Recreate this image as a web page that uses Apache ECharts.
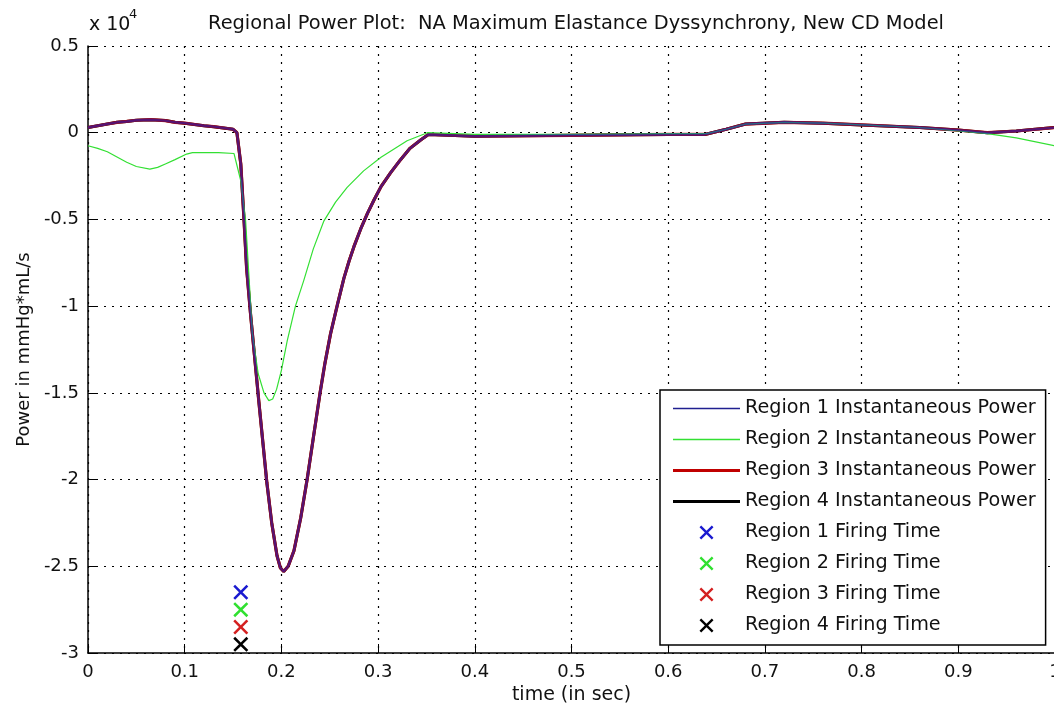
<!DOCTYPE html>
<html>
<head>
<meta charset="utf-8">
<script src="https://cdn.jsdelivr.net/npm/echarts@6/dist/echarts.min.js"></script>
<style>html,body{margin:0;padding:0;background:#fff}#c{width:1054px;height:714px}</style>
</head>
<body>
<div id="c"></div>
<script>
// Values in units of 10^4 mmHg*mL/s
const mainTime = [0, 0.01, 0.02, 0.03, 0.04, 0.05, 0.065, 0.08, 0.09, 0.1, 0.12, 0.13, 0.15, 0.154, 0.158, 0.161, 0.164, 0.168, 0.1765, 0.185, 0.19, 0.1955, 0.199, 0.2024, 0.207, 0.213, 0.22, 0.2266, 0.233, 0.240, 0.245, 0.2508, 0.258, 0.2646, 0.27, 0.275, 0.282, 0.289, 0.296, 0.303, 0.313, 0.323, 0.333, 0.344, 0.352, 0.4, 0.5, 0.6, 0.638, 0.66, 0.68, 0.72, 0.76, 0.8, 0.86, 0.9, 0.93, 0.96, 1.0];
const region1Power = [0.03, 0.04, 0.05, 0.06, 0.065, 0.072, 0.075, 0.07, 0.06, 0.055, 0.04, 0.035, 0.02, 0.0, -0.18, -0.47, -0.78, -1.04, -1.54, -2.02, -2.25, -2.44, -2.51, -2.53, -2.5, -2.41, -2.22, -2.0, -1.76, -1.50, -1.33, -1.16, -0.99, -0.84, -0.74, -0.657, -0.555, -0.465, -0.385, -0.311, -0.23, -0.157, -0.09, -0.042, -0.01, -0.02, -0.015, -0.01, -0.01, 0.02, 0.05, 0.06, 0.055, 0.045, 0.03, 0.015, 0.0, 0.01, 0.03];
const region3Power = region1Power.slice();
const region4Power = region1Power.slice();

const region2Time = [0, 0.01, 0.02, 0.03, 0.04, 0.05, 0.064, 0.072, 0.08, 0.09, 0.102, 0.108, 0.116, 0.135, 0.151, 0.158, 0.163, 0.170, 0.176, 0.182, 0.187, 0.191, 0.195, 0.2, 0.206, 0.2145, 0.223, 0.233, 0.244, 0.256, 0.268, 0.285, 0.303, 0.330, 0.351, 0.4, 0.5, 0.6, 0.64, 0.66, 0.68, 0.72, 0.76, 0.8, 0.86, 0.9, 0.93, 0.96, 1.0];
const region2Power = [-0.075, -0.09, -0.11, -0.14, -0.17, -0.195, -0.21, -0.2, -0.18, -0.155, -0.123, -0.115, -0.114, -0.115, -0.12, -0.277, -0.508, -1.16, -1.39, -1.5, -1.545, -1.535, -1.48, -1.37, -1.2, -1.0, -0.854, -0.67, -0.508, -0.4, -0.315, -0.22, -0.142, -0.046, 0, -0.01, -0.01, -0.005, -0.005, 0.02, 0.05, 0.06, 0.055, 0.045, 0.03, 0.01, -0.005, -0.03, -0.075];

const firingTimes = [0.158, 0.158, 0.158, 0.158];
const firingMarks = [-2.65, -2.75, -2.85, -2.95];

const xTicks = {min: 0, max: 1, interval: 0.1};
const yTicks = {min: -3, max: 0.5, interval: 0.5};

const seriesNames = ['Region 1 Instantaneous Power', 'Region 2 Instantaneous Power', 'Region 3 Instantaneous Power', 'Region 4 Instantaneous Power', 'Region 1 Firing Time', 'Region 2 Firing Time', 'Region 3 Firing Time', 'Region 4 Firing Time'];

const zip = (xs, ys) => xs.map((x, i) => [x, ys[i]]);
const X_PATH = 'path://M0,1.2L1.2,0L5,3.8L8.8,0L10,1.2L6.2,5L10,8.8L8.8,10L5,6.2L1.2,10L0,8.8L3.8,5Z';
const THIN_LINE = 'path://M0,0L67,0L67,1.3L0,1.3Z';
const THICK_LINE = 'path://M0,0L67,0L67,3L0,3Z';
const FONT = '"DejaVu Sans", "Liberation Sans", sans-serif';
const TXT = '#111';

const lineBase = {type: 'line', symbol: 'none', showSymbol: false, smooth: false, clip: true};

const chart = echarts.init(document.getElementById('c'), null, {renderer: 'canvas'});
chart.setOption({
  backgroundColor: '#fff',
  animation: false,
  textStyle: {fontFamily: FONT},
  title: {
    text: 'Regional Power Plot:  NA Maximum Elastance Dyssynchrony, New CD Model',
    left: 571, textAlign: 'center', top: 9,
    textStyle: {fontFamily: FONT, fontSize: 19.4, fontWeight: 'normal', color: TXT}
  },
  graphic: [
    {type: 'text', left: 89, top: 16, style: {text: 'x 10', font: '19px ' + FONT, fill: TXT}},
    {type: 'text', left: 129, top: 8, style: {text: '4', font: '13px ' + FONT, fill: TXT}}
  ],
  grid: {left: 88, right: -1, top: 46, bottom: 61, containLabel: false, outerBoundsMode: 'none'},
  xAxis: {
    type: 'value', min: xTicks.min, max: xTicks.max, interval: xTicks.interval,
    name: 'time (in sec)', nameLocation: 'middle', nameGap: 30,
    nameTextStyle: {fontFamily: FONT, fontSize: 19, color: TXT},
    axisLine: {show: true, onZero: false, lineStyle: {color: '#000', width: 1.5}},
    axisTick: {show: true, inside: true, length: 9, lineStyle: {color: '#000', width: 1}},
    axisLabel: {fontFamily: FONT, fontSize: 18, color: TXT, margin: 10, showMaxLabel: true},
    splitLine: {show: true, lineStyle: {color: '#000', width: 1.2, type: [2, 6]}}
  },
  yAxis: {
    type: 'value', min: yTicks.min, max: yTicks.max, interval: yTicks.interval,
    name: 'Power in mmHg*mL/s', nameLocation: 'middle', nameGap: 54, nameRotate: 90,
    nameTextStyle: {fontFamily: FONT, fontSize: 18, color: TXT},
    axisLine: {show: true, onZero: false, lineStyle: {color: '#000', width: 1.5}},
    axisTick: {show: true, inside: true, length: 9, lineStyle: {color: '#000', width: 1}},
    axisLabel: {fontFamily: FONT, fontSize: 18, color: TXT, margin: 9},
    splitLine: {show: true, lineStyle: {color: '#000', width: 1.2, type: [2, 6]}}
  },
  legend: {
    orient: 'vertical', left: 660, top: 390,
    padding: [9, 10, 10, 13],
    itemWidth: 67, itemHeight: 14, itemGap: 12,
    symbolKeepAspect: true,
    backgroundColor: '#fff', borderColor: '#000', borderWidth: 1.5, borderRadius: 0,
    textStyle: {fontFamily: FONT, fontSize: 19.2, lineHeight: 19, color: TXT},
    data: [
      {name: seriesNames[0], icon: THIN_LINE},
      {name: seriesNames[1], icon: THIN_LINE},
      {name: seriesNames[2], icon: THICK_LINE},
      {name: seriesNames[3], icon: THICK_LINE},
      {name: seriesNames[4]}, {name: seriesNames[5]}, {name: seriesNames[6]}, {name: seriesNames[7]}
    ]
  },
  series: [
    Object.assign({}, lineBase, {name: seriesNames[3], data: zip(mainTime, region4Power), lineStyle: {color: '#000', width: 3}, itemStyle: {color: '#000'}, z: 2}),
    Object.assign({}, lineBase, {name: seriesNames[2], data: zip(mainTime, region3Power), lineStyle: {color: '#c40000', width: 3.2, opacity: 0.85}, itemStyle: {color: '#c00000'}, z: 3}),
    Object.assign({}, lineBase, {name: seriesNames[1], data: zip(region2Time, region2Power), lineStyle: {color: '#33e033', width: 1.2}, itemStyle: {color: '#33e033'}, z: 4}),
    Object.assign({}, lineBase, {name: seriesNames[0], data: zip(mainTime, region1Power), lineStyle: {color: '#2020c0', width: 2.4, opacity: 0.6}, itemStyle: {color: '#202090'}, z: 5}),
    {type: 'scatter', name: seriesNames[4], data: [[firingTimes[0], firingMarks[0]]], symbol: X_PATH, symbolSize: 15, itemStyle: {color: '#1a1ad0', opacity: 1}, z: 6},
    {type: 'scatter', name: seriesNames[5], data: [[firingTimes[1], firingMarks[1]]], symbol: X_PATH, symbolSize: 15, itemStyle: {color: '#30e030', opacity: 1}, z: 6},
    {type: 'scatter', name: seriesNames[6], data: [[firingTimes[2], firingMarks[2]]], symbol: X_PATH, symbolSize: 15, itemStyle: {color: '#d42020', opacity: 1}, z: 6},
    {type: 'scatter', name: seriesNames[7], data: [[firingTimes[3], firingMarks[3]]], symbol: X_PATH, symbolSize: 15, itemStyle: {color: '#000', opacity: 1}, z: 6}
  ]
});
</script>
</body>
</html>
